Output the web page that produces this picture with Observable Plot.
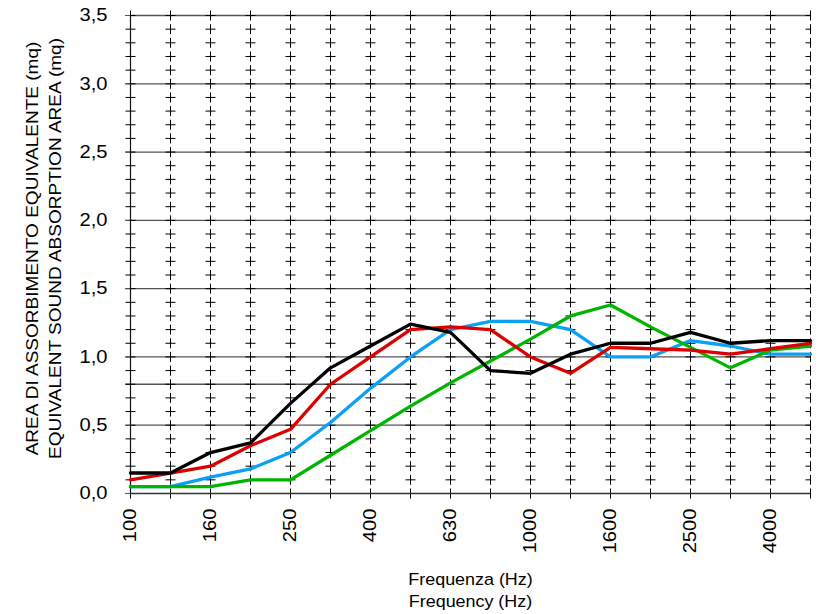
<!DOCTYPE html>
<html>
<head>
<meta charset="utf-8">
<script src="https://cdn.jsdelivr.net/npm/d3@7"></script>
<script src="https://cdn.jsdelivr.net/npm/@observablehq/plot@0.6"></script>
<style>
  html, body { margin: 0; padding: 0; background: #fff; }
  #chart { width: 818px; height: 614px; }
</style>
</head>
<body>
<div id="chart"></div>
<script>
// ---- data ----
const freqs = ["100","125","160","200","250","315","400","500","630","800","1000","1250","1600","2000","2500","3150","4000","5000"];
const blackSeries = [0.15,0.15,0.30,0.37,0.66,0.92,1.08,1.24,1.18,0.90,0.88,1.02,1.10,1.10,1.18,1.10,1.12,1.12];
const redSeries   = [0.10,0.15,0.20,0.35,0.47,0.80,1.00,1.20,1.22,1.20,1.00,0.88,1.07,1.06,1.05,1.02,1.06,1.10];
const blueSeries  = [0.05,0.05,0.12,0.18,0.30,0.52,0.77,1.00,1.20,1.26,1.26,1.20,1.00,1.00,1.12,1.08,1.02,1.02];
const greenSeries = [0.05,0.05,0.05,0.10,0.10,0.28,0.46,0.64,0.81,0.97,1.13,1.30,1.38,1.22,1.07,0.92,1.05,1.08];
const yMajorTicks = [0, 0.5, 1.0, 1.5, 2.0, 2.5, 3.0, 3.5];
const yMinorTicks = [0,0.1,0.2,0.3,0.4,0.5,0.6,0.7,0.8,0.9,1.0,1.1,1.2,1.3,1.4,1.5,1.6,1.7,1.8,1.9,2.0,2.1,2.2,2.3,2.4,2.5,2.6,2.7,2.8,2.9,3.0,3.1,3.2,3.3,3.4,3.5];
const refLineValue = [0.8];
const yTitle = "AREA DI ASSORBIMENTO EQUIVALENTE (mq)\nEQUIVALENT SOUND ABSORPTION AREA (mq)";
const xTitle = "Frequenza (Hz)\nFrequency (Hz)";

const seriesList = [
  {name: "blue",  values: blueSeries,  color: "#0aa0f5"},
  {name: "green", values: greenSeries, color: "#00b400"},
  {name: "red",   values: redSeries,   color: "#dc0000"},
  {name: "black", values: blackSeries, color: "#000000"}
];

const idx = freqs.map((_, i) => i);
const lastIdx = idx.length - 1;
const labelIdx = idx.filter(i => i % 2 === 0);

const crossFull = {draw(ctx) { const h = 5; ctx.moveTo(-h, 0); ctx.lineTo(h, 0); ctx.moveTo(0, -h); ctx.lineTo(0, h); }};
const crossHalf = {draw(ctx) { const h = 5; ctx.moveTo(-h, 0); ctx.lineTo(0, 0); ctx.moveTo(0, -h); ctx.lineTo(0, h); }};

const crossData = [];
const crossEdge = [];
for (const i of idx) for (const v of yMinorTicks) (i === lastIdx ? crossEdge : crossData).push({x: i, y: v});

const font = "'Liberation Sans', Arial, Helvetica, sans-serif";

const marks = [
  Plot.ruleY(yMajorTicks.filter(v => v > 0), {stroke: "#555", strokeWidth: 1.3}),
  Plot.ruleY(refLineValue, {x1: -0.12, x2: 7.17, stroke: "#555", strokeWidth: 1.3}),
  Plot.dot(crossData, {x: "x", y: "y", symbol: crossFull, stroke: "#000", fill: "none", strokeWidth: 1}),
  Plot.dot(crossEdge, {x: "x", y: "y", symbol: crossHalf, stroke: "#000", fill: "none", strokeWidth: 1}),
  Plot.ruleX([0], {stroke: "#111", strokeWidth: 1.2}),
  Plot.ruleY([0], {stroke: "#333", strokeWidth: 1.4}),
  ...seriesList.map(s => Plot.line(s.values, {x: (d, i) => i, y: d => d, stroke: s.color, strokeWidth: 3.3, strokeLinejoin: "miter"})),
  Plot.axisY({ticks: yMajorTicks, tickFormat: d => d.toFixed(1).replace(".", ","), tickSize: 5, tickPadding: 18, fontSize: 18, label: null, stroke: "#555"}),
  Plot.axisX({ticks: labelIdx, tickFormat: i => freqs[i], tickRotate: -90, tickSize: 0, tickPadding: 15, fontSize: 18, label: null, textAnchor: "end"}),
  Plot.text([yTitle], {frameAnchor: "left", dx: -88, dy: -6, rotate: -90, fontSize: 17, lineHeight: 1.32, lineAnchor: "middle", textAnchor: "middle", fill: "#000"}),
  Plot.text([xTitle], {frameAnchor: "bottom", dy: 95, fontSize: 16, lineHeight: 1.375, lineAnchor: "middle", textAnchor: "middle", fill: "#000"})
];

const chart = Plot.plot({
  width: 818,
  height: 614,
  marginLeft: 130,
  marginRight: 8,
  marginTop: 15,
  marginBottom: 121,
  style: {fontFamily: font, background: "#fff", overflow: "visible"},
  x: {type: "linear", domain: [0, lastIdx], axis: null},
  y: {type: "linear", domain: [0, 3.5], axis: null},
  marks
});

// horizontally stretch text glyphs along their baseline to mimic the original's wide font
const stretch = 1.12;
chart.querySelectorAll("text").forEach(t => {
  const tr = t.getAttribute("transform");
  if (tr) t.setAttribute("transform", tr + ` scale(${stretch},1)`);
});

document.getElementById("chart").appendChild(chart);
</script>
</body>
</html>
